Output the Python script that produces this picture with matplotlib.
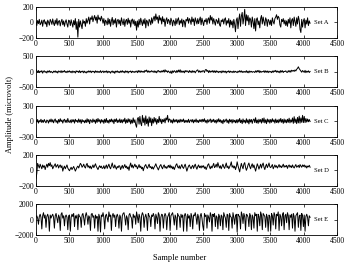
import numpy as np
import matplotlib
matplotlib.use("Agg")
import matplotlib.pyplot as plt

# ---------------------------------------------------------------------------
# Data (roughly one point every 12.5 samples;
# each row below covers 250 samples)
# ---------------------------------------------------------------------------
set_a = [10, -40, 25, -15, 40, -30, -10, 30, -50, 20, 35, -20, 10, -55, 30, 5, -35, 40, 15, -25,
         45, -10, -40, 30, -20, 50, -35, 15, 25, -45, 10, 40, -30, 20, -50, 5, 35, -20, -60, 30,
         20, -40, 35, -10, -60, 25, -30, 50, -90, 10, -190, 40, -60, 20, -30, -80, 35, -10, 15, -50,
         50, -10, 30, 70, -20, 60, 40, 85, 10, 55, 90, 30, 70, -10, 95, 40, 60, 20, 80, 45,
         -10, 50, -40, 30, 10, -30, 55, -20, 40, -50, 20, 65, -30, 35, -10, 50, -60, 25, 40, -20,
         30, -40, 60, 10, -30, 45, -50, 20, 40, -25, 55, -10, 30, -60, 25, 45, -20, 35, -40, 15,
         -100, 20, -60, 40, -30, 55, 10, -40, 35, -20, 50, -70, 30, 10, -45, 40, 20, -30, 60, -10,
         50, 80, 20, 110, 40, 70, -10, 90, 30, 60, -20, 75, 10, 45, -50, 30, 60, -15, 40, 20,
         -30, 55, 20, -45, 30, 10, -40, 50, -20, 35, 60, -30, 25, -10, 45, -55, 30, 15, -60, 40,
         20, 65, -10, 50, 30, -25, 70, 10, 45, -40, 60, 20, -20, 50, -15, 35, 70, -30, 55, 10,
         -40, 30, 10, 50, -25, 40, 60, -10, 90, 30, 70, -20, 50, 10, -35, 40, 20, -15, 55, -30,
         -50, 30, 10, 45, -20, 40, 60, -35, 25, -10, 50, -60, 30, -30, 20, -70, 40, -20, -120, 30,
         60, -80, 40, 110, -50, 80, 130, -20, 60, 170, -40, 100, 20, 90, -30, 60, 40, -60, 70, 10,
         -80, 50, -110, 40, 60, -30, 20, -70, 50, 90, -20, 70, 10, -40, 60, 30, -50, 40, 20, -30,
         30, -40, 60, 10, -20, 50, 70, 100, 40, 80, 60, -30, -60, 40, 10, 50, -20, 30, -40, 20,
         -50, 40, -10, 60, -70, 30, 50, -40, 70, 10, -50, 60, -20, 80, 30, -90, -130, 40, -60, 20,
         50, -70, 30, -20, 60, -40, 20, -10]

set_b = [70, 30, -20, 40, -30, 20, -10, 35, -45, 15, 30, -20, 10, -40, 25, -10, 35, -25, 15, -15,
         -35, 20, -10, 30, -25, 15, -40, 25, 10, -20, 35, -30, 20, -5, 40, -20, 10, -30, 25, -10,
         30, -20, 15, -35, 25, -15, 10, -40, 30, -5, 20, -25, 35, -30, 15, -10, 25, -35, 20, -15,
         -40, 15, -20, 30, -10, 25, -30, 20, -5, 15, -35, 30, -15, 20, -25, 10, -20, 35, -30, 5,
         25, -30, 15, -10, 30, -35, 20, -20, 10, -45, 5, 25, -30, 15, -50, 20, -10, 30, -25, 10,
         -30, 25, -15, 35, -20, 15, -35, 30, -10, 20, -40, 15, -5, 25, -30, 20, -15, 10, -25, 15,
         20, -30, 40, -15, 35, -20, 25, -10, 15, -25, 45, 10, 55, -15, 30, -20, 20, -10, 35, 5,
         -15, 30, -25, 20, -35, 25, 40, -10, 20, -20, 30, -5, 50, -15, 65, 0, 35, -20, 25, -10,
         -40, 25, -55, 30, -20, 35, 10, -30, 40, -15, 55, -10, 65, -25, 30, -15, 20, -35, 40, -5,
         35, 10, -25, 40, -15, 25, -30, 35, -10, 20, -35, 15, 45, 60, -15, 30, -20, 25, -10, 35,
         30, -25, 60, 75, 10, 45, -30, 35, -15, 25, -10, 40, -20, 30, -25, 35, -15, 20, -30, 10,
         15, -35, 30, -20, 25, -15, 20, -40, 15, -10, 30, -25, 20, -15, 10, -30, 25, -20, 15, -5,
         -30, 20, -15, 35, -10, 30, -25, 15, -20, 10, -15, 35, -30, 20, -35, 25, -10, 15, -20, 5,
         0, -25, 30, -15, 40, -10, 45, -30, 20, -15, 10, -5, 35, -25, 30, -15, 25, -30, 20, -10,
         10, -30, 25, -20, 35, 0, 45, -15, 25, -20, 20, -35, 40, -10, 35, -25, 15, 5, 30, -15,
         -20, 35, -10, 40, -15, 50, 20, 45, 10, 60, 25, 80, 110, 160, 100, 60, 20, -15, 40, 10,
         -20, 45, -30, 20, -10, 30, -25, 10]

set_c = [20, -20, 30, -40, 10, -15, 35, -30, 15, -25, 30, -10, -35, 20, 5, -40, 25, -15, 40, -20,
         25, -35, 15, 40, -25, 10, -45, 30, -20, 45, -10, 20, -40, 15, 35, -25, 20, -30, 50, -15,
         -25, 20, -35, 30, -15, 25, -40, 35, -10, 15, -30, 40, -20, 25, -45, 30, -15, 10, -35, 20,
         -30, 45, -20, 30, -50, 25, 10, -30, 40, -15, 20, -45, 35, -25, 50, -10, 25, -40, 30, -20,
         20, -45, 35, -25, 50, -30, 15, -40, 30, -15, 40, -20, 25, -50, 35, -10, 45, -30, 20, -25,
         40, -30, 25, -35, 30, -15, 55, -45, 25, -30, 45, -20, 35, -55, 20, -40, 60, -30, 25, -70,
         -120, 40, 70, -60, 90, -40, -90, 110, -30, 60, -80, 100, -50, 40, -100, 80, -30, 60, -90, 40,
         -40, 70, -20, 50, -60, 30, -30, 90, -20, 40, -50, 30, -15, 45, -35, 60, 20, 110, -20, 40,
         30, -30, 20, -40, 40, -20, 25, -15, 30, -35, 20, -25, 35, -20, 25, -10, 40, -30, 15, -25,
         15, -25, 35, -30, 10, 25, -20, 30, -35, 20, -15, 40, -25, 15, -30, 25, -10, 30, -20, 35,
         -10, 45, -25, 15, -40, 30, -20, 10, 40, -30, 25, -15, 35, -25, 15, -40, 30, -20, 45, -15,
         25, -35, 15, -50, 30, -20, 10, 40, -30, 20, -45, 35, -15, 25, -40, 30, -20, 15, -35, 25,
         -35, 30, -20, 50, -30, 20, -50, 40, -25, 15, -40, 45, -30, 25, -55, 35, -20, 30, -45, 20,
         40, -30, 65, -35, 20, -45, 35, -20, 30, -40, 50, -25, 60, -35, 25, -50, 40, -20, 30, -40,
         30, -25, 45, -15, 25, -40, 40, -30, 20, -35, 35, -20, 50, -25, 30, -45, 40, -30, 25, -35,
         35, -25, 55, -35, 25, -20, 60, -45, 85, -30, 40, -50, 70, -35, 95, -40, 60, -25, 110, -30,
         90, -30, 50, -20, 40, -15, 30, -10]

set_d = [-110, -40, 90, 60, 30, 80, 50, 20, 70, 40, 60, 10, 50, 80, 40, 90, 60, 100, 50, 70,
         20, 45, 65, 85, 40, 60, 75, 30, 55, 70, 35, 60, -10, 30, 55, 20, 45, 70, 30, 10,
         -5, 20, 40, 10, 30, 50, 20, -10, 15, 40, 55, 30, 60, 90, 75, 40, 55, 80, 45, 30,
         70, 90, 40, 60, 30, 55, 20, 45, 70, 35, 60, 85, 50, 30, 10, 40, 60, 35, 55, 25,
         30, 60, 20, 45, 70, 25, 55, 80, 40, 20, 60, 95, 45, 30, 70, 40, 15, 50, 35, 60,
         55, 10, 40, 65, 25, 50, 75, 35, 55, 20, 45, 0, 60, 95, 40, 70, 30, 55, 80, 45,
         60, 20, 45, 75, 35, 55, 20, 40, -5, 35, 60, 75, 40, 25, 55, 80, 35, 50, 20, 45,
         15, 40, 60, 85, 50, 30, 5, 35, 60, 75, 40, 20, 55, 70, 30, 50, 25, 45, 65, 35,
         70, 30, 55, 20, 45, 10, 40, 70, 85, 45, 30, 60, 20, 50, 75, 40, 25, 55, 80, 35,
         -10, 25, 55, 70, 40, 20, 50, 65, 25, 55, 80, 40, 15, 50, 70, 35, 55, 30, 60, 40,
         60, 25, 45, 10, 40, 70, 85, 45, 20, 55, 30, 60, 90, 35, 50, 80, 40, 100, 60, 30,
         60, 20, 50, 80, 45, 25, 60, 95, 35, 55, 20, 45, 70, 110, 40, 60, 30, 55, 10, 45,
         110, 60, 20, -20, 40, 90, 50, 20, 80, 100, 40, 0, 30, 70, 95, 50, 20, 60, 85, 35,
         70, 30, -10, 40, 85, 55, 15, 50, 80, 30, 70, 95, 40, 10, 55, 80, 35, 60, 95, 45,
         35, 55, 75, 20, 45, 70, 40, 60, 30, 50, 75, 40, 60, 35, 55, 80, 40, 60, 45, 65,
         25, 55, 70, 40, 60, 35, 70, 45, 30, 55, 75, 40, 50, 65, 35, 75, 55, 40, 70, 50,
         70, 40, 60, 30, 55, 45, 65, 40]

set_e = [300, 500, 200, -600, 400, 700, 300, -1200, 500, 900, 200, 600, -1000, 400, 700, 300, -1500, 600, 200, 500,
         700, 300, -1100, 500, 800, 200, -400, 600, 300, -1400, 700, 900, 200, 500, -800, 400, 600, 300, -1300, 500,
         600, -1500, 300, 700, 400, 800, -900, 500, 200, 600, -1300, 700, 400, 300, -1000, 600, 800, 200, -700, 500,
         900, 400, -600, 500, 300, -1400, 700, 800, 300, 500, -1100, 600, 200, 400, -1500, 700, 300, -1600, 600, 400,
         900, 300, -1200, 500, 700, 200, -300, 1000, 400, 600, -1400, 500, 800, 300, 600, -900, 400, 700, 300, -1100,
         600, 300, -1500, 500, 800, 900, 300, -700, 500, 200, -1300, 600, 800, 400, 200, -1100, 700, 300, 500, -600,
         1000, 400, -400, 700, 300, -1500, 500, 900, 600, -1000, 300, 700, 200, -1400, 800, 500, 300, -900, 600, 400,
         800, 400, -1200, 700, 300, -500, 900, 600, -1500, 300, 700, 600, -1100, 400, 800, 500, -1300, 300, 600, 900,
         -1400, 500, 700, 900, 300, -700, 600, 300, -1300, 800, 500, 400, -1000, 700, 300, 600, -1500, 500, 800, 400,
         -1500, 700, 200, 500, -900, 800, 400, -1200, 600, 500, 900, 300, -600, 700, 300, -1400, 500, 800, 200, -800,
         -1400, 800, 400, 600, -1100, 600, 300, -300, 900, 500, -1500, 700, 400, 800, -900, 500, 300, -1200, 700, 400,
         -800, 600, 400, -1300, 900, 500, 200, -1000, 700, 600, -1400, 800, 400, 300, -1100, 900, 300, -600, 500, 700,
         -1600, 700, 500, 400, -1200, 1000, 600, -500, 800, 400, -1400, 700, 600, 300, -900, 800, 500, -1300, 600, 300,
         -1100, 900, 500, 700, -1500, 700, 400, -800, 1000, 600, -1300, 800, 600, 400, -1000, 700, 300, -1500, 600, 400,
         -1500, 800, 500, -700, 900, 600, -1200, 700, 500, 1000, -1400, 700, 400, -800, 600, 900, -1300, 500, 700, -400,
         900, 500, -1300, 600, 300, 700, -1100, 800, 400, -1500, 500, 700, 900, -1000, 400, 600, -1400, 800, 500, -900,
         600, -1500, 400, 700, 300, -800, 500, 300]

series = [set_a, set_b, set_c, set_d, set_e]
set_names = ["Set A", "Set B", "Set C", "Set D", "Set E"]
y_limits = [200, 500, 300, 200, 2000]
x_ticks = [0, 500, 1000, 1500, 2000, 2500, 3000, 3500, 4000, 4500]
last_sample = 4096

# ---------------------------------------------------------------------------
# Figure
# ---------------------------------------------------------------------------
plt.rcParams["font.family"] = ["Liberation Serif", "DejaVu Serif"]

fig = plt.figure(figsize=(3.49, 2.69), dpi=100)

left, right = 0.103, 0.966
top, bottom = 0.974, 0.126
n = len(series)
h = 0.115
gap = (top - bottom - n * h) / (n - 1)

for k, (vals, name, lim) in enumerate(zip(series, set_names, y_limits)):
    y0 = top - h - k * (h + gap)
    ax = fig.add_axes([left, y0, right - left, h])
    x = np.linspace(0, last_sample, len(vals))
    ax.plot(x, vals, color="black", linewidth=0.7)
    ax.set_xlim(0, 4500)
    ax.set_ylim(-lim, lim)
    ax.set_xticks(x_ticks)
    ax.set_yticks([-lim, 0, lim])
    ax.tick_params(direction="in", top=True, right=True, length=2.5,
                   width=0.5, labelsize=5.5, pad=1.5, colors="black")
    for sp in ax.spines.values():
        sp.set_linewidth(0.6)
    ax.text(4160, 0, name, fontsize=4.8, ha="left", va="center")

fig.text(0.029, 0.575, "Amplitude (microvolt)", rotation=90,
         ha="center", va="center", fontsize=6)
fig.text(0.514, 0.04, "Sample number", ha="center", va="center", fontsize=6)

fig.savefig("out.png", dpi=100)
